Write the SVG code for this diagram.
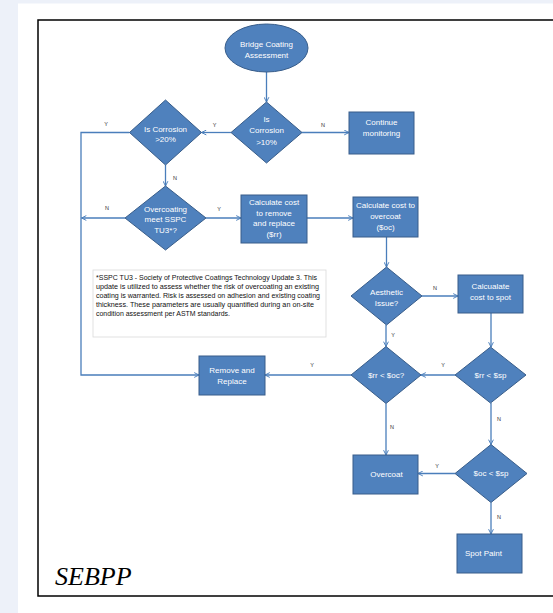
<svg xmlns="http://www.w3.org/2000/svg" width="553" height="613" viewBox="0 0 553 613">
<defs>
<style>
.shape{fill:#4f81bd;stroke:#385d8a;stroke-width:1}
.t{font-family:"Liberation Sans",Arial,sans-serif;font-size:8px;fill:#ffffff;text-anchor:middle}
.lbl{font-family:"Liberation Sans",Arial,sans-serif;font-size:5.5px;fill:#333333;text-anchor:middle}
.con{fill:none;stroke:#4a7ebb;stroke-width:1.3}
.note{font-family:"Liberation Sans",Arial,sans-serif;font-size:6.6px;fill:#111111}
</style>
<marker id="arr" viewBox="0 0 10 10" refX="9" refY="5" markerWidth="6" markerHeight="6" orient="auto" markerUnits="userSpaceOnUse">
<path d="M1,1 L9,5 L1,9" fill="none" stroke="#4a7ebb" stroke-width="1.6"/>
</marker>
</defs>
<rect x="0" y="0" width="553" height="613" fill="#edf1f9"/>
<rect x="18" y="3.5" width="535" height="609.5" fill="#ffffff"/>
<rect x="38" y="20" width="530" height="576" fill="none" stroke="#000000" stroke-width="1.5"/>

<g id="connectors">
<path class="con" marker-end="url(#arr)" d="M266.5,72 L266.5,102"/>
<path class="con" marker-end="url(#arr)" d="M231,132.5 L201.5,132.5"/>
<path class="con" marker-end="url(#arr)" d="M302,132.5 L349,132.5"/>
<path class="con" marker-end="url(#arr)" d="M129.5,132.5 L81,132.5 L81,375 L199,375"/>
<path class="con" marker-end="url(#arr)" d="M165.5,165 L165.5,186"/>
<path class="con" marker-end="url(#arr)" d="M125,218 L81.5,218"/>
<path class="con" marker-end="url(#arr)" d="M206,218 L241,218"/>
<path class="con" marker-end="url(#arr)" d="M307,218 L353,218"/>
<path class="con" marker-end="url(#arr)" d="M386.5,237 L386.5,267"/>
<path class="con" marker-end="url(#arr)" d="M422,296 L458,296"/>
<path class="con" marker-end="url(#arr)" d="M386,325 L386,346.5"/>
<path class="con" marker-end="url(#arr)" d="M491,313 L491,347"/>
<path class="con" marker-end="url(#arr)" d="M455,375 L421,375"/>
<path class="con" marker-end="url(#arr)" d="M351,375 L265,375"/>
<path class="con" marker-end="url(#arr)" d="M386,403.5 L386,455"/>
<path class="con" marker-end="url(#arr)" d="M491,403 L491,444.5"/>
<path class="con" marker-end="url(#arr)" d="M455,473.5 L418,473.5"/>
<path class="con" marker-end="url(#arr)" d="M491,502.5 L491,534"/>
<text class="lbl" x="214.5" y="127">Y</text>
<text class="lbl" x="323" y="127">N</text>
<text class="lbl" x="106" y="126">Y</text>
<text class="lbl" x="175" y="180">N</text>
<text class="lbl" x="107" y="210">N</text>
<text class="lbl" x="219" y="211">Y</text>
<text class="lbl" x="435" y="290">N</text>
<text class="lbl" x="393" y="337">Y</text>
<text class="lbl" x="443" y="367">Y</text>
<text class="lbl" x="312" y="367">Y</text>
<text class="lbl" x="392" y="429">N</text>
<text class="lbl" x="499" y="421">N</text>
<text class="lbl" x="437" y="468">Y</text>
<text class="lbl" x="499" y="519">N</text>
</g>

<g id="start">
<ellipse class="shape" cx="266.5" cy="48" rx="41.5" ry="24"/>
<text class="t" x="266.5" y="46.8">Bridge Coating</text>
<text class="t" x="266.5" y="57.8">Assessment</text>
</g>
<g id="corr10">
<polygon class="shape" points="266.5,102 302,132.5 266.5,163 231,132.5"/>
<text class="t" x="266.5" y="121.8">Is</text>
<text class="t" x="266.5" y="133.3">Corrosion</text>
<text class="t" x="266.5" y="144.8">&gt;10%</text>
</g>
<g id="monitor">
<rect class="shape" x="349" y="112" width="65" height="42"/>
<text class="t" x="381.5" y="124.8">Continue</text>
<text class="t" x="381.5" y="135.8">monitoring</text>
</g>
<g id="corr20">
<polygon class="shape" points="165.5,100 201.5,132.5 165.5,165 129.5,132.5"/>
<text class="t" x="165.5" y="131.8">Is Corrosion</text>
<text class="t" x="165.5" y="141.8">&gt;20%</text>
</g>
<g id="tu3">
<polygon class="shape" points="165.5,186 206,218 165.5,250 125,218"/>
<text class="t" x="165.5" y="211.8">Overcoating</text>
<text class="t" x="165.5" y="222.3">meet SSPC</text>
<text class="t" x="165.5" y="232.8">TU3*?</text>
</g>
<g id="costrr">
<rect class="shape" x="241" y="195" width="66" height="48"/>
<text class="t" x="274" y="205">Calculate cost</text>
<text class="t" x="274" y="216">to remove</text>
<text class="t" x="274" y="226">and replace</text>
<text class="t" x="274" y="236.8">($rr)</text>
</g>
<g id="costoc">
<rect class="shape" x="353" y="197" width="65" height="40"/>
<text class="t" x="385.5" y="207.8">Calculate cost to</text>
<text class="t" x="385.5" y="218.8">overcoat</text>
<text class="t" x="385.5" y="229.8">($oc)</text>
</g>
<g id="note">
<rect x="93" y="270" width="233" height="67" fill="#ffffff" stroke="#d9d9d9" stroke-width="0.8"/>
<text class="note" x="96" y="279.5" textLength="221" lengthAdjust="spacingAndGlyphs">*SSPC TU3 -  Society of Protective Coatings Technology Update 3.   This</text>
<text class="note" x="96" y="288.7" textLength="223" lengthAdjust="spacingAndGlyphs">update is utilized to assess whether the risk of overcoating an existing</text>
<text class="note" x="96" y="297.9" textLength="224" lengthAdjust="spacingAndGlyphs">coating is warranted. Risk is assessed on adhesion and existing coating</text>
<text class="note" x="96" y="307.1" textLength="218" lengthAdjust="spacingAndGlyphs">thickness.  These parameters are usually quantified  during an on-site</text>
<text class="note" x="96" y="316.3" textLength="134" lengthAdjust="spacingAndGlyphs">condition assessment per ASTM standards.</text>
</g>
<g id="aesthetic">
<polygon class="shape" points="386.5,267 422,296 386.5,325 351,296"/>
<text class="t" x="386.5" y="294.8">Aesthetic</text>
<text class="t" x="386.5" y="305.8">Issue?</text>
</g>
<g id="costsp">
<rect class="shape" x="458" y="275" width="65" height="38"/>
<text class="t" x="490.5" y="288.8">Calcualate</text>
<text class="t" x="490.5" y="299.8">cost to spot</text>
</g>
<g id="rroc">
<polygon class="shape" points="386,346.5 421,375 386,403.5 351,375"/>
<text class="t" x="386" y="377.8">$rr &lt; $oc?</text>
</g>
<g id="rrsp">
<polygon class="shape" points="490.5,347 526,375 490.5,403 455,375"/>
<text class="t" x="490.5" y="377.8">$rr &lt; $sp</text>
</g>
<g id="remove">
<rect class="shape" x="199" y="356" width="66" height="39"/>
<text class="t" x="232" y="372.8">Remove  and</text>
<text class="t" x="232" y="383.8">Replace</text>
</g>
<g id="ocsp">
<polygon class="shape" points="491,444.5 527,473.5 491,502.5 455,473.5"/>
<text class="t" x="491" y="476.3">$oc &lt; $sp</text>
</g>
<g id="overcoat">
<rect class="shape" x="353" y="455" width="65" height="39"/>
<text class="t" x="386.5" y="476.8">Overcoat</text>
</g>
<g id="spotpaint">
<rect class="shape" x="457" y="534" width="65" height="39"/>
<text class="t" x="465" y="555.8" style="text-anchor:start">Spot Paint</text>
</g>
<text x="55" y="585" font-family="'Liberation Serif','Times New Roman',serif" font-style="italic" font-size="26" fill="#000000">SEBPP</text>
</svg>
